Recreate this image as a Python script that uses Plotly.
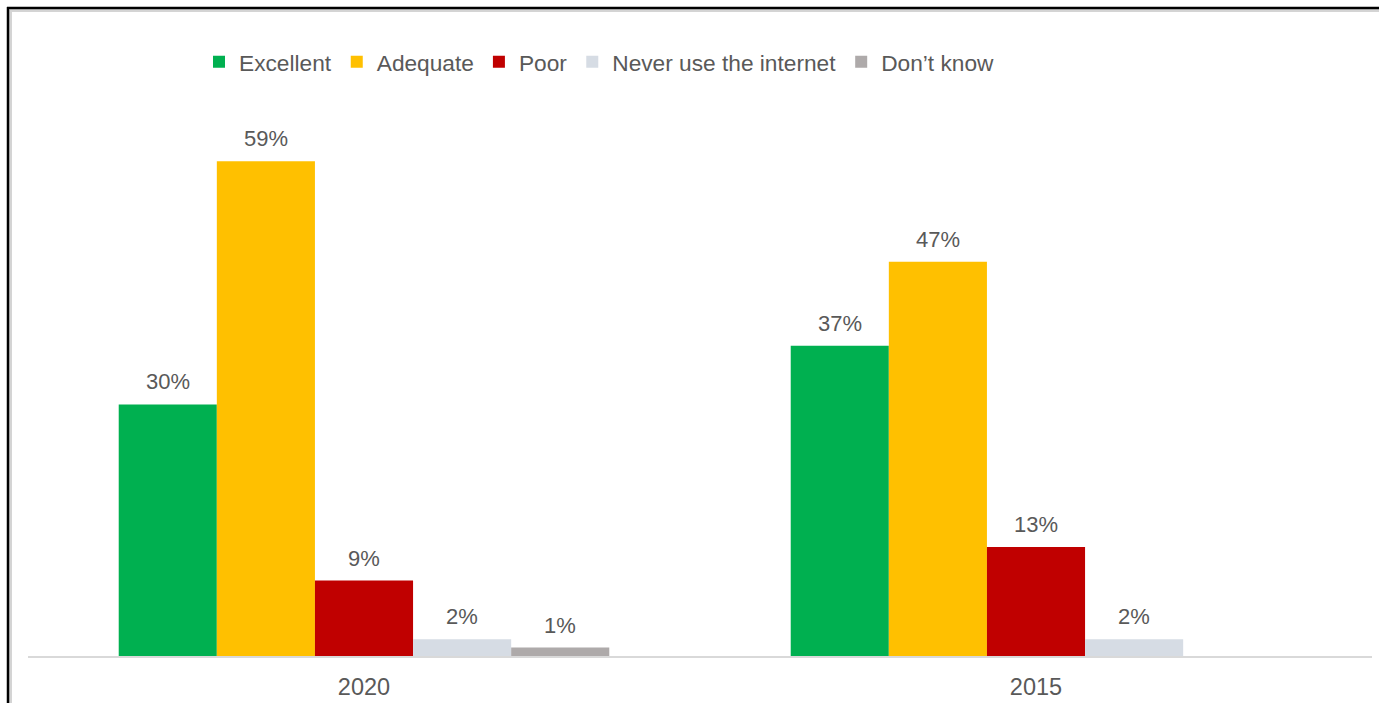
import plotly.graph_objects as go

# Survey years on the category axis
years = ["2020", "2015"]

# Share of respondents per rating, in percent
series_names = ["Excellent", "Adequate", "Poor", "Never use the internet", "Don’t know"]
excellent = [30, 37]
adequate = [59, 47]
poor = [9, 13]
never_use = [2, 2]
dont_know = [1, None]

series_values = [excellent, adequate, poor, never_use, dont_know]
series_colors = ["#00B050", "#FFC000", "#C00000", "#D6DCE4", "#AEAAAA"]

FONT = "Liberation Sans, Arial, sans-serif"
TEXT_GRAY = "#595959"

BARGAP = 0.27
n_series = len(series_names)
bar_w = (1 - BARGAP) / n_series

fig = go.Figure()
for name, vals, color in zip(series_names, series_values, series_colors):
    fig.add_trace(go.Bar(
        name=name,
        x=list(range(len(years))),
        y=[v if v is not None else 0 for v in vals],
        marker=dict(color=color, line=dict(width=0)),
        hoverinfo="skip",
    ))

# Value labels above each bar, placed from the same values
annotations = []
for i, vals in enumerate(series_values):
    offset = -(1 - BARGAP) / 2 + bar_w * (i + 0.5)
    for j, v in enumerate(vals):
        if v is None:
            continue
        annotations.append(dict(
            x=j + offset, y=v, xref="x", yref="y",
            text=f"{v}%", showarrow=False,
            yanchor="bottom", yshift=8,
            font=dict(family=FONT, size=22, color=TEXT_GRAY),
        ))

W, H = 1379, 703
ML, MR, MT, MB = 28, 7, 69, 47
pw, ph = W - ML - MR, H - MT - MB


def px_x(x):
    return (x - ML) / pw


def px_y(y):
    return (H - MB - y) / ph


# Outer frame: dark edge with a soft grey inner shadow (left and top sides)
shapes = [
    dict(type="line", xref="paper", yref="paper", x0=px_x(10.5), x1=px_x(10.5),
         y0=px_y(10), y1=px_y(H + 5), line=dict(color="#D4D4D4", width=3)),
    dict(type="line", xref="paper", yref="paper", x0=px_x(10), x1=px_x(W + 5),
         y0=px_y(10.5), y1=px_y(10.5), line=dict(color="#D4D4D4", width=3)),
    dict(type="line", xref="paper", yref="paper", x0=px_x(8), x1=px_x(8),
         y0=px_y(7), y1=px_y(H + 5), line=dict(color="#000000", width=2.5)),
    dict(type="line", xref="paper", yref="paper", x0=px_x(7), x1=px_x(W + 5),
         y0=px_y(8), y1=px_y(8), line=dict(color="#000000", width=2.5)),
]

fig.update_layout(
    width=W, height=H,
    margin=dict(l=ML, r=MR, t=MT, b=MB, autoexpand=False),
    paper_bgcolor="white", plot_bgcolor="white",
    barmode="group", bargap=BARGAP, bargroupgap=0,
    font=dict(family=FONT, size=22, color=TEXT_GRAY),
    showlegend=True,
    legend=dict(
        orientation="h", x=px_x(199), xanchor="left",
        y=px_y(62), yanchor="middle",
        font=dict(family=FONT, size=22.7, color=TEXT_GRAY),
        bgcolor="rgba(0,0,0,0)", itemclick=False, itemdoubleclick=False,
    ),
    xaxis=dict(
        tickmode="array", tickvals=list(range(len(years))), ticktext=years,
        range=[-0.5, len(years) - 0.5],
        showline=True, linecolor="#D9D9D9", linewidth=1.5,
        showgrid=False, zeroline=False, ticks="",
        ticklabelstandoff=9, automargin=False,
        tickfont=dict(family=FONT, size=23.5, color=TEXT_GRAY),
    ),
    yaxis=dict(
        range=[0, 70], visible=False, showgrid=False, zeroline=False,
        automargin=False,
    ),
    annotations=annotations,
    shapes=shapes,
)

fig.write_html("out.html")
